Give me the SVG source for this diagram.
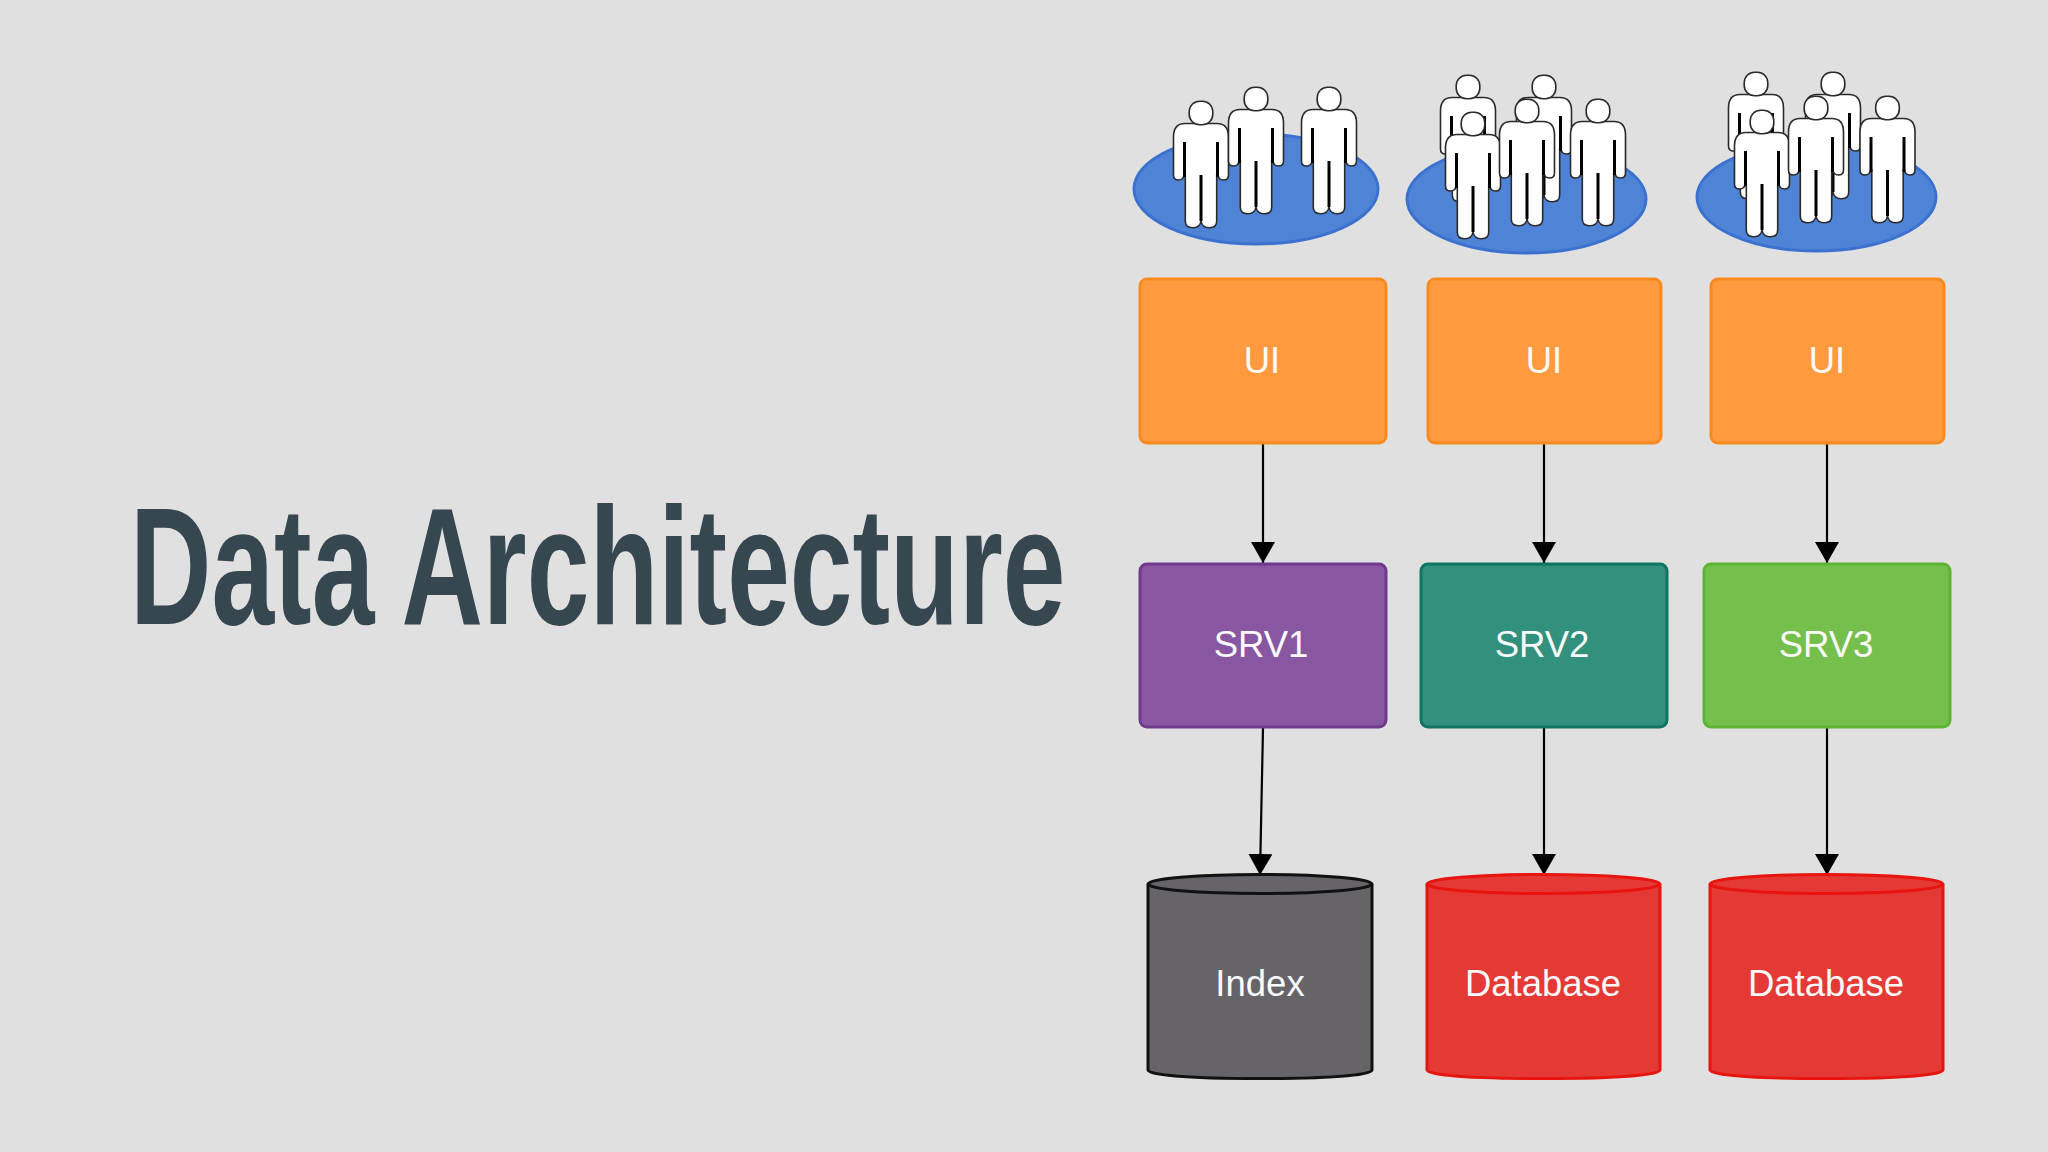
<svg xmlns="http://www.w3.org/2000/svg" xmlns:xlink="http://www.w3.org/1999/xlink" width="2048" height="1152" viewBox="0 0 2048 1152">
<style>
.lbl{font-family:"Liberation Sans",Arial,sans-serif;font-size:36.5px;fill:#fafafa;text-anchor:middle}
.title{font-family:"Liberation Sans",Arial,sans-serif;font-weight:700;font-size:167px;fill:#37474f}
.box{stroke-width:3}
.ui{fill:#ff9a3f;stroke:#f98a1f}
.crowd{fill:#4f83d6;stroke:#3b72d0;stroke-width:3}
.cylg{fill:#666468;stroke:#111;stroke-width:3}
.cylr{fill:#e53935;stroke:#e8140f;stroke-width:3}
.conn{fill:none;stroke:#000;stroke-width:2.2;marker-end:url(#arrow)}
</style>
<defs>
<marker id="arrow" markerUnits="userSpaceOnUse" markerWidth="22" markerHeight="24" refX="21" refY="12" orient="auto"><path d="M0,0L21,12L0,24Z" fill="#000"/></marker>
<g id="person">
<path d="M-10,10.500L-16,10.500C-24,10.500-27.500,16-27.500,24L-27.500,62Q-27.500,67-22.500,67Q-17.500,67-17,62L-15.700,62L-15.700,108Q-15.700,114.700-8.500,114.700Q-1,114.700 0,108Q1,114.700 8.500,114.700Q15.700,114.700 15.700,108L15.700,62L17,62Q17.500,67 22.500,67Q27.500,67 27.500,62L27.500,24C27.500,16 24,10.500 16,10.500L10,10.500Z" fill="#fff" stroke="#2a2a2a" stroke-width="1.6"/>
<rect x="-11.800" y="-11.800" width="23.600" height="23.600" rx="10.500" fill="#fff" stroke="#2a2a2a" stroke-width="1.6"/>
<path d="M-16.500,29V64M16.500,29V64M0,62V108" fill="none" stroke="#000" stroke-width="3"/>
</g>
</defs>
<rect width="2048" height="1152" fill="#e0e0e1"/>
<text id="title" class="title" transform="translate(130,624) scale(0.675,1)">Data Architecture</text>
<g id="users1">
<ellipse class="crowd" cx="1256" cy="189" rx="122" ry="55"/>
<use xlink:href="#person" href="#person" x="1201" y="113"/>
<use xlink:href="#person" href="#person" x="1256" y="99"/>
<use xlink:href="#person" href="#person" x="1329" y="99"/>
</g>
<g id="users2">
<ellipse class="crowd" cx="1526.500" cy="199" rx="119.500" ry="54"/>
<use xlink:href="#person" href="#person" x="1468" y="87"/>
<use xlink:href="#person" href="#person" x="1544" y="87"/>
<use xlink:href="#person" href="#person" x="1473" y="124"/>
<use xlink:href="#person" href="#person" x="1527" y="111"/>
<use xlink:href="#person" href="#person" x="1598" y="111"/>
</g>
<g id="users3">
<ellipse class="crowd" cx="1816.500" cy="197" rx="119.500" ry="54"/>
<use xlink:href="#person" href="#person" x="1756" y="84"/>
<use xlink:href="#person" href="#person" x="1833" y="84"/>
<use xlink:href="#person" href="#person" x="1762" y="122"/>
<use xlink:href="#person" href="#person" x="1816" y="108"/>
<use xlink:href="#person" href="#person" x="1887.500" y="108"/>
</g>
<g id="connectors">
<path class="conn" d="M1263,443V563"/>
<path class="conn" d="M1544,443V563"/>
<path class="conn" d="M1827,443V563"/>
<path class="conn" d="M1263,728L1260,875"/>
<path class="conn" d="M1544,728V875"/>
<path class="conn" d="M1827,728V875"/>
</g>
<g id="ui1"><rect class="box ui" x="1140" y="279" width="246" height="164" rx="7"/><text class="lbl" x="1262" y="373">UI</text></g>
<g id="ui2"><rect class="box ui" x="1428" y="279" width="233" height="164" rx="7"/><text class="lbl" x="1544" y="373">UI</text></g>
<g id="ui3"><rect class="box ui" x="1711" y="279" width="233" height="164" rx="7"/><text class="lbl" x="1827" y="373">UI</text></g>
<g id="srv1"><rect class="box" fill="#8957a1" stroke="#6f3a8e" x="1140" y="564" width="246" height="163" rx="7"/><text class="lbl" x="1261" y="657">SRV1</text></g>
<g id="srv2"><rect class="box" fill="#32917d" stroke="#0f7560" x="1421" y="564" width="246" height="163" rx="7"/><text class="lbl" x="1542" y="657">SRV2</text></g>
<g id="srv3"><rect class="box" fill="#75c04c" stroke="#5eb332" x="1704" y="564" width="246" height="163" rx="7"/><text class="lbl" x="1826" y="657">SRV3</text></g>
<g id="index"><path class="cylg" d="M1148,884A112,9.500 0 0 1 1372,884V1070C1372,1075 1330,1078.500 1260,1078.500S1148,1075 1148,1070Z"/><path class="cylg" d="M1148,884A112,9.500 0 0 0 1372,884" fill="none"/><text class="lbl" x="1260" y="996">Index</text></g>
<g id="db1"><path class="cylr" d="M1427,884A116.500,9.500 0 0 1 1660,884V1070C1660,1075 1617,1078.500 1543.500,1078.500S1427,1075 1427,1070Z"/><path class="cylr" d="M1427,884A116.500,9.500 0 0 0 1660,884" fill="none"/><text class="lbl" x="1543" y="996">Database</text></g>
<g id="db2"><path class="cylr" d="M1710,884A116.500,9.500 0 0 1 1943,884V1070C1943,1075 1900,1078.500 1826.500,1078.500S1710,1075 1710,1070Z"/><path class="cylr" d="M1710,884A116.500,9.500 0 0 0 1943,884" fill="none"/><text class="lbl" x="1826" y="996">Database</text></g>
</svg>
